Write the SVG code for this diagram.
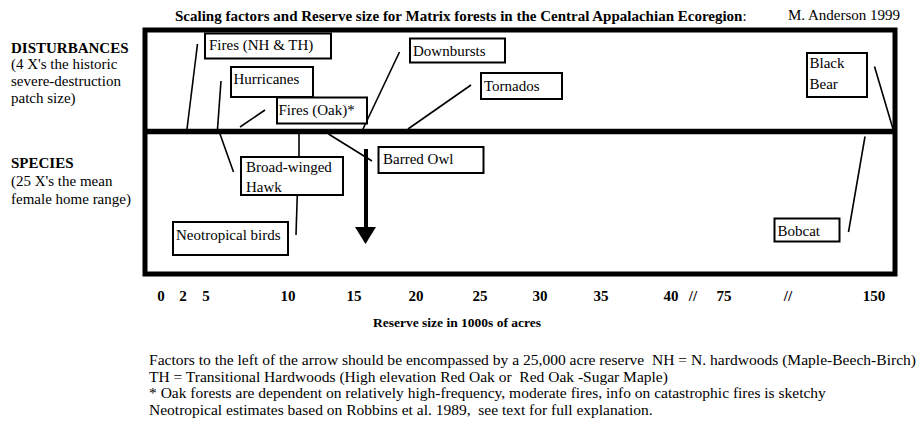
<svg xmlns="http://www.w3.org/2000/svg" width="918" height="426" viewBox="0 0 918 426">
<style>
text{font-family:"Liberation Serif","Times New Roman",serif;fill:#000}
.t{font-size:15px}
.b{font-weight:bold}
.box{fill:#fff;stroke:#000;stroke-width:2}
.con line{stroke:#000;stroke-width:1.6}
.frame{fill:none;stroke:#000;stroke-width:5}
.ax{font-size:15px;font-weight:bold;text-anchor:middle}
.ft{font-size:15.5px;white-space:pre}
</style>
<rect width="918" height="426" fill="#fff"/>
<g id="title">
<text class="t b" x="175" y="21">Scaling factors and Reserve size for Matrix forests in the Central Appalachian Ecoregion<tspan font-weight="normal">:</tspan></text>
<text class="t" x="788" y="20">M. Anderson 1999</text>
</g>
<g id="frame">
<rect class="frame" x="145" y="30" width="750" height="244"/>
<line x1="145" y1="131.5" x2="895" y2="131.5" stroke="#000" stroke-width="5.5"/>
</g>
<g id="row-labels">
<text class="t b" x="11" y="53" font-size="14.5">DISTURBANCES</text>
<text class="t" x="11" y="69">(4 X's the historic</text>
<text class="t" x="11" y="86">severe-destruction</text>
<text class="t" x="11" y="103">patch size)</text>
<text class="t b" x="11" y="168" font-size="14.5">SPECIES</text>
<text class="t" x="11" y="186">(25 X's the mean</text>
<text class="t" x="11" y="204">female home range)</text>
</g>
<g class="con" id="connectors">
<line x1="197.5" y1="44" x2="187" y2="129"/>
<line x1="221" y1="81" x2="217.5" y2="129"/>
<line x1="265" y1="110" x2="240" y2="127"/>
<line x1="399.5" y1="52" x2="363" y2="129"/>
<line x1="471" y1="85" x2="408" y2="129"/>
<line x1="874.5" y1="66.5" x2="893" y2="129"/>
<line x1="220" y1="134" x2="233.5" y2="172"/>
<line x1="299" y1="134" x2="299" y2="157"/>
<line x1="297.3" y1="195" x2="296" y2="235"/>
<line x1="328.5" y1="134" x2="372" y2="161"/>
<line x1="865" y1="136.5" x2="848.5" y2="232"/>
</g>
<g id="arrow">
<line x1="366" y1="149" x2="366" y2="230" stroke="#000" stroke-width="4"/>
<polygon points="355,227 376,227 365.5,244" fill="#000"/>
</g>
<g id="fires-nh-th"><rect class="box" x="205" y="33.5" width="126" height="25"/><text class="t" x="209" y="50">Fires (NH &amp; TH)</text></g>
<g id="hurricanes"><rect class="box" x="231" y="67" width="82" height="30"/><text class="t" x="233.5" y="84">Hurricanes</text></g>
<g id="fires-oak"><rect class="box" x="277" y="97.5" width="90" height="26"/><text class="t" x="278.5" y="115">Fires (Oak)*</text></g>
<g id="downbursts"><rect class="box" x="410" y="38.5" width="95" height="24"/><text class="t" x="413" y="56">Downbursts</text></g>
<g id="tornados"><rect class="box" x="481" y="73" width="81" height="26"/><text class="t" x="484" y="91">Tornados</text></g>
<g id="black-bear"><rect class="box" x="807" y="53" width="60" height="44"/><text class="t" x="809.5" y="68">Black</text><text class="t" x="809.5" y="89">Bear</text></g>
<g id="broad-winged-hawk"><rect class="box" x="241" y="157" width="102" height="38"/><text class="t" x="246" y="172">Broad-winged</text><text class="t" x="246" y="192">Hawk</text></g>
<g id="neotropical-birds"><rect class="box" x="173" y="222" width="115" height="33"/><text class="t" x="176" y="240">Neotropical birds</text></g>
<g id="barred-owl"><rect class="box" x="378.5" y="147" width="105" height="26"/><text class="t" x="383" y="164">Barred Owl</text></g>
<g id="bobcat"><rect class="box" x="774.5" y="218.5" width="65" height="23"/><text class="t" x="777.5" y="236">Bobcat</text></g>
<g id="axis">
<text class="ax" x="161" y="301">0</text>
<text class="ax" x="183" y="301">2</text>
<text class="ax" x="206" y="301">5</text>
<text class="ax" x="288" y="301">10</text>
<text class="ax" x="354" y="301">15</text>
<text class="ax" x="416" y="301">20</text>
<text class="ax" x="480" y="301">25</text>
<text class="ax" x="540" y="301">30</text>
<text class="ax" x="601" y="301">35</text>
<text class="ax" x="671" y="301">40</text>
<text class="ax" x="693" y="301">//</text>
<text class="ax" x="724" y="301">75</text>
<text class="ax" x="788" y="301">//</text>
<text class="ax" x="874" y="301">150</text>
<text class="b" x="457" y="327" font-size="13.5" text-anchor="middle">Reserve size in 1000s of acres</text>
</g>
<g id="notes">
<text class="ft" x="149" y="365" textLength="767" lengthAdjust="spacingAndGlyphs">Factors to the left of the arrow should be encompassed by a 25,000 acre reserve  NH = N. hardwoods (Maple-Beech-Birch)</text>
<text class="ft" x="149" y="381.5">TH = Transitional Hardwoods (High elevation Red Oak or  Red Oak -Sugar Maple)</text>
<text class="ft" x="149" y="398">* Oak forests are dependent on relatively high-frequency, moderate fires, info on catastrophic fires is sketchy</text>
<text class="ft" x="149" y="414.5">Neotropical estimates based on Robbins et al. 1989,  see text for full explanation.</text>
</g>
</svg>
